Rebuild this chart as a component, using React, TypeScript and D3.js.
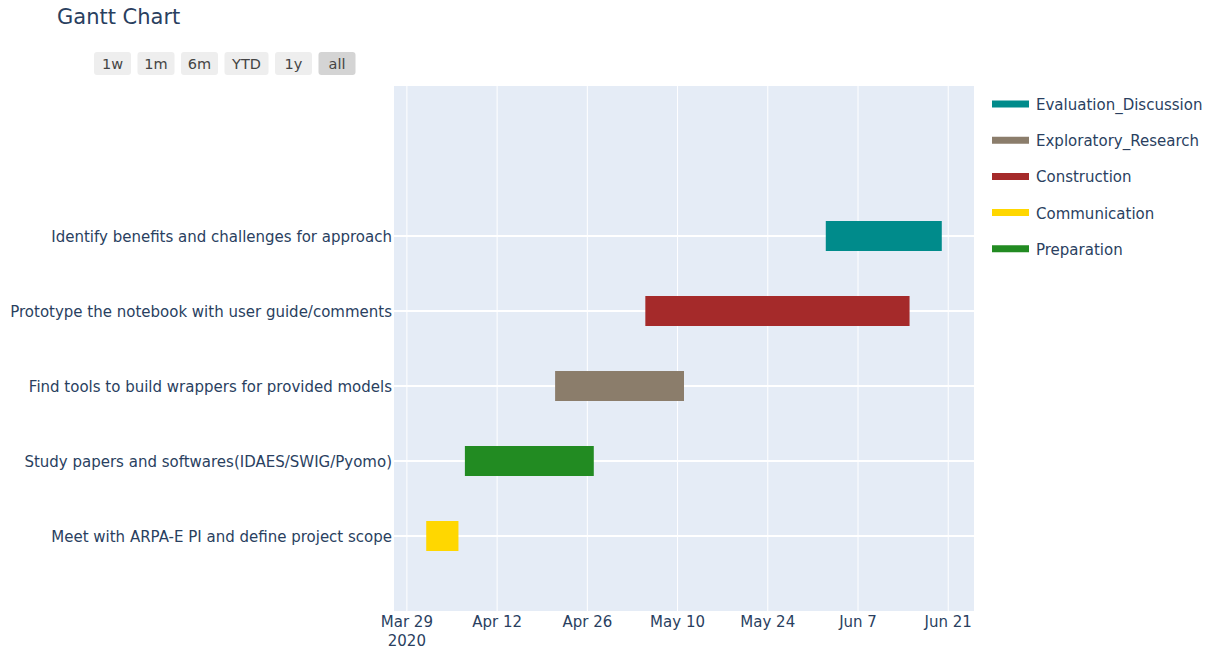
import React from "react";
import * as d3 from "d3";

// task rows, bottom to top
const tasks = [
  "Meet with ARPA-E PI and define project scope",
  "Study papers and softwares(IDAES/SWIG/Pyomo)",
  "Find tools to build wrappers for provided models",
  "Prototype the notebook with user guide/comments",
  "Identify benefits and challenges for approach",
];
const starts = ["2020-04-01", "2020-04-07", "2020-04-21", "2020-05-05", "2020-06-02"];
const ends = ["2020-04-06", "2020-04-27", "2020-05-11", "2020-06-15", "2020-06-20"];
const resources = ["Communication", "Preparation", "Exploratory_Research", "Construction", "Evaluation_Discussion"];

const legendOrder = ["Evaluation_Discussion", "Exploratory_Research", "Construction", "Communication", "Preparation"];
const colors: Record<string, string> = {
  Evaluation_Discussion: "#008B8B",
  Exploratory_Research: "#8B7D6B",
  Construction: "#A52A2A",
  Communication: "#FFD700",
  Preparation: "#228B22",
};

const tickDates = ["2020-03-29", "2020-04-12", "2020-04-26", "2020-05-10", "2020-05-24", "2020-06-07", "2020-06-21"];
const tickLabels = ["Mar 29", "Apr 12", "Apr 26", "May 10", "May 24", "Jun 7", "Jun 21"];
const buttons = ["1w", "1m", "6m", "YTD", "1y", "all"];

const parse = d3.timeParse("%Y-%m-%d");
const font = "'DejaVu Sans', Verdana, sans-serif";
const textColor = "#2a3f5f";
const fs = 15;

export default function App() {
  const W = 1223, H = 663;
  const left = 394, right = 974, top = 86, bottom = 611;

  const s = starts.map(d => parse(d)!);
  const e = ends.map(d => parse(d)!);
  const lo = d3.min(s)!, hi = d3.max(e)!;
  const pad = (hi.getTime() - lo.getTime()) * 0.0625;
  const x = d3.scaleTime()
    .domain([new Date(lo.getTime() - pad), new Date(hi.getTime() + pad)])
    .range([left, right]);
  const y = d3.scaleLinear().domain([-1, tasks.length + 1]).range([bottom, top]);
  const barH = 30;

  let bx = 94;
  const btns = buttons.map(b => {
    const w = b === "YTD" ? 44 : 37;
    const r = { label: b, x: bx, w };
    bx += w + 6.5;
    return r;
  });

  return (
    <svg width={W} height={H} style={{ position: "absolute", left: 0, top: 0, background: "#fff" }} fontFamily={font}>
      <text x={57} y={24} fontSize={21} fill={textColor}>Gantt Chart</text>

      {btns.map(b => (
        <g key={b.label}>
          <rect x={b.x} y={52} width={b.w} height={23} rx={3} fill={b.label === "all" ? "#d4d4d4" : "#eeeeee"} />
          <text x={b.x + b.w / 2} y={68.5} textAnchor="middle" fontSize={14.5} fill="#444">{b.label}</text>
        </g>
      ))}

      <rect x={left} y={top} width={right - left} height={bottom - top} fill="#E5ECF6" />

      {tickDates.map(t => (
        <line key={t} x1={x(parse(t)!)} x2={x(parse(t)!)} y1={top} y2={bottom} stroke="#fff" strokeWidth={1} />
      ))}
      {tasks.map((t, i) => (
        <line key={t} x1={left} x2={right} y1={y(i)} y2={y(i)} stroke="#fff" strokeWidth={2} />
      ))}

      {tasks.map((t, i) => (
        <rect key={t} x={x(s[i])} y={y(i) - barH / 2} width={x(e[i]) - x(s[i])} height={barH} fill={colors[resources[i]]} />
      ))}

      {tasks.map((t, i) => (
        <text key={t} x={392} y={y(i) + 6} textAnchor="end" fontSize={fs} fill={textColor}>{t}</text>
      ))}

      {tickDates.map((t, i) => (
        <text key={t} x={x(parse(t)!)} y={627} textAnchor="middle" fontSize={fs} fill={textColor}>{tickLabels[i]}</text>
      ))}
      <text x={x(parse(tickDates[0])!)} y={646} textAnchor="middle" fontSize={fs} fill={textColor}>2020</text>

      {legendOrder.map((r, i) => (
        <g key={r} transform={`translate(992, ${104 + i * 36.2})`}>
          <line x1={0} x2={37} y1={0} y2={0} stroke={colors[r]} strokeWidth={7} />
          <text x={44} y={6} fontSize={fs} fill={textColor}>{r}</text>
        </g>
      ))}
    </svg>
  );
}
